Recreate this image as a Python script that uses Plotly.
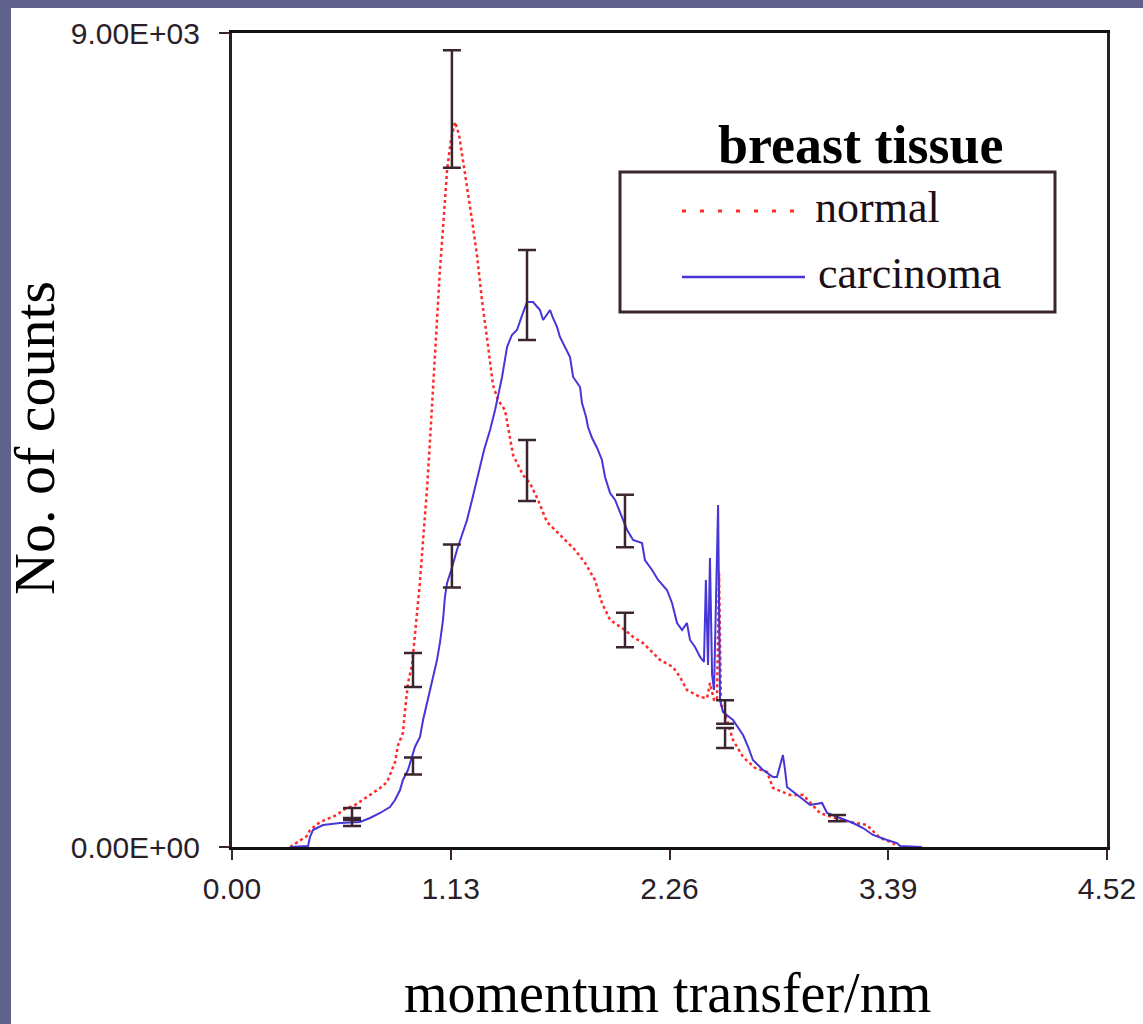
import plotly.graph_objects as go

# Momentum transfer (1/nm) and counts for the two breast tissue spectra
normal_q = [0.300, 0.351, 0.387, 0.403, 0.455, 0.542, 0.573, 0.635, 0.677, 0.713,
            0.765, 0.801, 0.816, 0.842, 0.858, 0.883, 0.894, 0.909, 0.930, 0.945,
            0.956, 0.961, 0.971, 0.987, 1.007, 1.023, 1.038, 1.059, 1.074, 1.095,
            1.111, 1.131, 1.152, 1.173, 1.193, 1.214, 1.240, 1.266, 1.291, 1.322,
            1.348, 1.374, 1.410, 1.452, 1.503, 1.539, 1.576, 1.627, 1.694, 1.772,
            1.824, 1.875, 1.911, 1.953, 2.030, 2.072, 2.123, 2.211, 2.278, 2.314,
            2.350, 2.418, 2.454, 2.469, 2.490, 2.505, 2.516, 2.526, 2.536, 2.588,
            2.640, 2.702, 2.764, 2.795, 2.883, 2.950, 3.037, 3.115, 3.193, 3.280,
            3.347, 3.415, 3.435]
normal_counts = [0, 77, 122, 188, 276, 354, 409, 464, 520, 575,
                 652, 719, 796, 940, 1128, 1261, 1515, 1813, 2012, 2344,
                 2565, 2731, 2930, 3395, 3947, 4500, 5053, 5716, 6380, 6988,
                 7486, 7817, 8016, 7873, 7596, 7320, 6932, 6534, 6048, 5551,
                 5108, 4942, 4832, 4334, 4113, 4025, 3859, 3594, 3450, 3284,
                 3140, 2952, 2698, 2510, 2399, 2322, 2256, 2068, 1990, 1880,
                 1736, 1659, 1647, 1813, 1625, 1625, 3030, 1570, 1548, 1183,
                 995, 874, 829, 652, 575, 575, 376, 321, 276, 243,
                 100, 44, 0]

carcinoma_q = [0.300, 0.393, 0.403, 0.418, 0.470, 0.558, 0.661, 0.713, 0.765, 0.816,
               0.842, 0.868, 0.883, 0.909, 0.945, 0.971, 0.987, 1.007, 1.023, 1.038,
               1.059, 1.074, 1.090, 1.100, 1.111, 1.136, 1.162, 1.188, 1.214, 1.240,
               1.271, 1.302, 1.333, 1.359, 1.395, 1.410, 1.421, 1.446, 1.472, 1.503,
               1.524, 1.555, 1.591, 1.607, 1.643, 1.658, 1.679, 1.694, 1.720, 1.746,
               1.762, 1.798, 1.808, 1.829, 1.839, 1.860, 1.886, 1.911, 1.927, 1.953,
               1.979, 1.994, 2.041, 2.072, 2.118, 2.133, 2.170, 2.201, 2.247, 2.273,
               2.299, 2.325, 2.350, 2.366, 2.392, 2.418, 2.438, 2.448, 2.459, 2.469,
               2.480, 2.490, 2.500, 2.511, 2.521, 2.536, 2.588, 2.640, 2.666, 2.691,
               2.743, 2.795, 2.815, 2.836, 2.846, 2.857, 2.867, 2.934, 2.986, 3.048,
               3.074, 3.141, 3.208, 3.260, 3.311, 3.384, 3.435, 3.451, 3.564]
carcinoma_counts = [0, 11, 111, 188, 243, 265, 276, 321, 376, 442,
                    520, 630, 741, 851, 1106, 1216, 1404, 1592, 1736, 1880,
                    2068, 2256, 2510, 2764, 2919, 3085, 3284, 3450, 3616, 3837,
                    4113, 4390, 4611, 4832, 5197, 5385, 5529, 5661, 5716, 5905,
                    6026, 6026, 5937, 5827, 5937, 5849, 5750, 5639, 5529, 5418,
                    5197, 5086, 4909, 4755, 4644, 4522, 4412, 4279, 4091, 3914,
                    3837, 3759, 3505, 3395, 3361, 3173, 3063, 2952, 2842, 2698,
                    2477, 2399, 2477, 2289, 2211, 2101, 2046, 2952, 2012, 3196,
                    1902, 1736, 2621, 3782, 1625, 1493, 1404, 1238, 1106, 962,
                    851, 774, 774, 962, 1017, 851, 663, 553, 464, 487,
                    376, 321, 265, 210, 133, 77, 44, 11, 0]

# Counting uncertainty at selected points
normal_err_q = [0.62, 0.935, 1.136, 1.524, 2.03, 2.547, 3.125]
normal_err_counts = [365, 1957, 8160, 4163, 2399, 1205, 320]
normal_err_size = [66, 188, 650, 337, 190, 110, 35]

carcinoma_err_q = [0.62, 0.935, 1.136, 1.524, 2.03, 2.547]
carcinoma_err_counts = [276, 896, 3107, 6103, 3605, 1493]
carcinoma_err_size = [44, 94, 238, 498, 290, 130]

x_ticks = [0.00, 1.13, 2.26, 3.39, 4.52]
x_tick_text = ["0.00", "1.13", "2.26", "3.39", "4.52"]
y_ticks = [0, 9000]
y_tick_text = ["0.00E+00", "9.00E+03"]

series_names = ["normal", "carcinoma"]
legend_title = "breast tissue"

RED = "#ff2b2b"
BLUE = "#4636d8"
BAR = "#3b2530"
SLATE = "#61618e"
SERIF = "Liberation Serif, Times New Roman, serif"
SANS = "Liberation Sans, Arial, sans-serif"

fig = go.Figure()

fig.add_trace(go.Scatter(x=normal_q, y=normal_counts, mode="lines", name=series_names[0],
                         line=dict(color=RED, width=2.5, dash="3px,3px"), showlegend=False))
fig.add_trace(go.Scatter(x=carcinoma_q, y=carcinoma_counts, mode="lines", name=series_names[1],
                         line=dict(color=BLUE, width=2), showlegend=False))

for q, c, e in [(normal_err_q, normal_err_counts, normal_err_size),
                (carcinoma_err_q, carcinoma_err_counts, carcinoma_err_size)]:
    fig.add_trace(go.Scatter(
        x=q, y=c, mode="markers", showlegend=False, hoverinfo="skip",
        marker=dict(size=1, color="rgba(0,0,0,0)"),
        error_y=dict(type="data", array=e, visible=True, color=BAR, thickness=2.5, width=9),
    ))

# Plot area in pixels: left 232, right 1107, top 33, bottom 847
W, H = 1143, 1024
L, R, T, B = 232, 36, 33, 177
PW, PH = W - L - R, H - T - B


def px(xp):
    return (xp - L) / PW


def py(yp):
    return (H - B - yp) / PH


shapes = [
    # slide frame strips
    dict(type="rect", xref="paper", yref="paper", x0=px(0), x1=px(11), y0=py(H), y1=py(0),
         fillcolor=SLATE, line_width=0, layer="below"),
    dict(type="rect", xref="paper", yref="paper", x0=px(0), x1=px(W), y0=py(8), y1=py(0),
         fillcolor=SLATE, line_width=0, layer="below"),
    # legend box
    dict(type="rect", xref="paper", yref="paper", x0=px(620), x1=px(1055), y0=py(312), y1=py(172),
         line=dict(color=BAR, width=3), fillcolor="white"),
    dict(type="line", xref="paper", yref="paper", x0=px(682), x1=px(805), y0=py(211), y1=py(211),
         line=dict(color=RED, width=3, dash="4px,14px")),
    dict(type="line", xref="paper", yref="paper", x0=px(682), x1=px(805), y0=py(277), y1=py(277),
         line=dict(color=BLUE, width=2.5)),
]

annotations = [
    dict(text="<b>" + legend_title + "</b>", xref="paper", yref="paper", x=px(861), y=py(145),
         showarrow=False, xanchor="center", yanchor="middle",
         font=dict(family=SERIF, size=54, color="black")),
    dict(text=series_names[0], xref="paper", yref="paper", x=px(813), y=py(207),
         showarrow=False, xanchor="left", yanchor="middle",
         font=dict(family=SERIF, size=44, color="#1a1016")),
    dict(text=series_names[1], xref="paper", yref="paper", x=px(816), y=py(273),
         showarrow=False, xanchor="left", yanchor="middle",
         font=dict(family=SERIF, size=44, color="#1a1016")),
    dict(text="momentum transfer/nm", xref="paper", yref="paper", x=px(667), y=py(993),
         showarrow=False, xanchor="center", yanchor="middle",
         font=dict(family=SERIF, size=56, color="black")),
    dict(text="No. of counts", xref="paper", yref="paper", x=px(34), y=py(438),
         showarrow=False, xanchor="center", yanchor="middle", textangle=-90,
         font=dict(family=SERIF, size=58, color="black")),
]

fig.update_layout(
    width=W, height=H,
    margin=dict(l=L, r=R, t=T, b=B, pad=0, autoexpand=False),
    paper_bgcolor="white", plot_bgcolor="white",
    showlegend=False,
    shapes=shapes,
    annotations=annotations,
    xaxis=dict(range=[0, 4.52], tickvals=x_ticks, ticktext=x_tick_text,
               ticks="outside", ticklen=10, tickwidth=2, tickcolor=BAR,
               showline=True, linewidth=3, linecolor="#111111", mirror=True,
               showgrid=False, zeroline=False, automargin=False, ticklabelstandoff=3,
               tickfont=dict(family=SANS, size=30, color="#2a1f28")),
    yaxis=dict(range=[0, 9000], tickvals=y_ticks, ticktext=y_tick_text,
               ticks="outside", ticklen=10, tickwidth=2, tickcolor=BAR,
               showline=True, linewidth=3, linecolor="#2a1f28", mirror=True,
               showgrid=False, zeroline=False, automargin=False, ticklabelstandoff=13,
               tickfont=dict(family=SANS, size=30, color="#2a1f28")),
)

fig.write_html("out.html")
